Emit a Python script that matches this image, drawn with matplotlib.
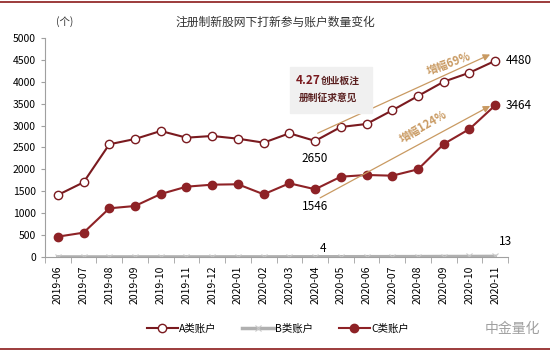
import matplotlib.pyplot as plt
import numpy as np

plt.rcParams['font.family'] = ['Noto Sans CJK SC', 'DejaVu Sans']

months = ['2019-06', '2019-07', '2019-08', '2019-09', '2019-10', '2019-11',
          '2019-12', '2020-01', '2020-02', '2020-03', '2020-04', '2020-05',
          '2020-06', '2020-07', '2020-08', '2020-09', '2020-10', '2020-11']
a_accounts = [1415, 1705, 2573, 2694, 2877, 2724, 2763, 2701, 2610, 2824,
              2650, 2968, 3037, 3349, 3676, 4003, 4208, 4480]
b_accounts = [0, 0, 0, 1, 1, 1, 1, 2, 2, 3, 4, 5, 6, 7, 8, 10, 11, 13]
c_accounts = [464, 555, 1111, 1164, 1438, 1605, 1651, 1660, 1431, 1682,
              1546, 1833, 1872, 1856, 2002, 2580, 2922, 3464]

dark_red = '#7a1a1f'
c_red = '#8e2226'
tan = '#c99a62'

fig = plt.figure(figsize=(5.5, 3.52), dpi=100)
ax = fig.add_axes([0.0818, 0.27, 0.842, 0.622])
x = np.arange(len(months))

ax.plot(x, a_accounts, color=dark_red, lw=1.5, marker='o', ms=6,
        mfc='white', mec=dark_red, mew=1.0, label='A类账户', zorder=3)
ax.plot(x, b_accounts, color='#b0b0b0', lw=2.5, marker='x', ms=5,
        mec='#c8c8c8', mew=0.8, label='B类账户', zorder=2)
ax.plot(x, c_accounts, color=c_red, lw=1.5, marker='o', ms=6,
        mfc=c_red, mec=c_red, label='C类账户', zorder=3)

ax.set_xlim(-0.5, len(months) - 0.5)
ax.set_ylim(0, 5000)
ax.set_yticks(np.arange(0, 5001, 500))
ax.set_xticks(x)
ax.set_xticklabels(months, rotation=90)
ax.set_xticks(np.arange(-0.5, len(months), 1), minor=True)
ax.tick_params(axis='x', which='major', length=0, labelsize=7.5, pad=6)
ax.tick_params(axis='x', which='minor', length=4, color='#a0a0a0')
ax.tick_params(axis='y', length=3, color='#a0a0a0', labelsize=7.5)
for s in ['top', 'right']:
    ax.spines[s].set_visible(False)
ax.spines['left'].set_color('#a0a0a0')
ax.spines['bottom'].set_color('#a0a0a0')

# value labels
ax.text(17.4, a_accounts[-1], str(a_accounts[-1]), fontsize=8.5, va='center', ha='left')
ax.text(17.4, c_accounts[-1], str(c_accounts[-1]), fontsize=8.5, va='center', ha='left')
ax.text(10, a_accounts[10] - 250, str(a_accounts[10]), fontsize=8.5, va='top', ha='center')
ax.text(10, c_accounts[10] - 250, str(c_accounts[10]), fontsize=8.5, va='top', ha='center')
ax.text(10.3, b_accounts[10] + 40, str(b_accounts[10]), fontsize=8.5, va='bottom', ha='center')
ax.text(17.4, b_accounts[-1] + 200, str(b_accounts[-1]), fontsize=8.5, va='bottom', ha='center')

# growth arrows
ax.annotate('', xy=(16.9, 4650), xytext=(10, 2800),
            arrowprops=dict(arrowstyle='-|>', color=tan, lw=0.9, mutation_scale=10))
ax.annotate('', xy=(16.9, 3480), xytext=(10.1, 1320),
            arrowprops=dict(arrowstyle='-|>', color=tan, lw=0.9, mutation_scale=10))
ax.text(15.2, 4420, '增幅69%', color=tan, fontsize=8, rotation=20,
        ha='center', va='center', fontweight='bold')
ax.text(14.2, 2980, '增幅124%', color=tan, fontsize=8, rotation=30,
        ha='center', va='center', fontweight='bold')

# annotation box
fig.patches.append(plt.Rectangle((290 / 550, 1 - 113 / 352), 82 / 550, 46 / 352,
                                 transform=fig.transFigure, color='#f0f0f0', zorder=0))
fig.text(296 / 550, 1 - 81 / 352, '4.27', color=dark_red, fontsize=8.5,
         fontweight='bold', ha='left', va='center')
fig.text(321 / 550, 1 - 81 / 352, '创业板注', color='#5a2020', fontsize=7,
         fontweight='bold', ha='left', va='center')
fig.text(299 / 550, 1 - 98 / 352, '册制征求意见', color='#5a2020', fontsize=7,
         fontweight='bold', ha='left', va='center')

fig.text(0.5, 1 - 22 / 352, '注册制新股网下打新参与账户数量变化', fontsize=8.5,
         ha='center', va='center', color='#333333')
fig.text(65 / 550, 1 - 22 / 352, '(个)', fontsize=7.5, ha='center', va='center',
         color='#333333')

fig.legend(loc='center', bbox_to_anchor=(0.505, 1 - 329 / 352), ncol=3,
           frameon=False, fontsize=7.5, handlelength=3, columnspacing=2.5,
           handletextpad=0.1)
fig.text(512 / 550, 1 - 329 / 352, '中金量化', fontsize=10, color='#a0a0a0',
         ha='center', va='center')

# frame lines
fig.add_artist(plt.Line2D([0, 1], [1 - 2 / 352] * 2, color='#8b1a1a', lw=1.2))
fig.add_artist(plt.Line2D([0, 1], [1 - 349 / 352] * 2, color='#8b1a1a', lw=1.2))

fig.savefig('out.png', dpi=100)
